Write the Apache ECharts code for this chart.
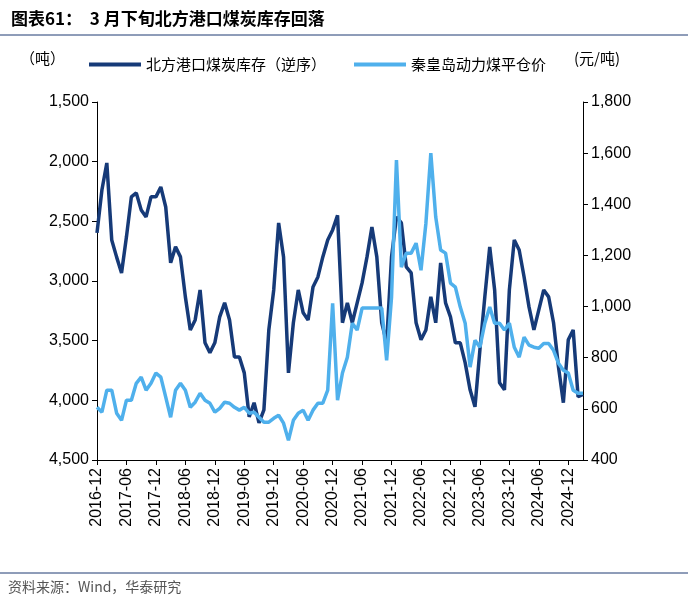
<!DOCTYPE html>
<html><head><meta charset="utf-8">
<script src="https://cdn.jsdelivr.net/npm/echarts@6/dist/echarts.min.js"></script>
<style>html,body{margin:0;padding:0;background:#fff}#c{width:688px;height:610px}</style>
</head><body><div id="c"></div>
<script>
const startYear = 2016, startMonth = 12, nMonths = 100;
const categories = [];
for (let i = 0; i < nMonths; i++) {
  const t = startYear * 12 + (startMonth - 1) + i;
  const y = Math.floor(t / 12), m = t % 12 + 1;
  categories.push(y + '-' + (m < 10 ? '0' + m : m));
}
const inventory = [2597,2237,2011,2656,2800,2933,2630,2295,2262,2404,2463,2295,2295,2212,2380,2848,2714,2798,3133,3410,
3326,3075,3518,3602,3518,3300,3183,3326,3636,3636,3770,4138,4020,4188,4080,3410,3075,2513,2798,3770,
3350,3075,3267,3326,3050,2966,2798,2656,2572,2450,3350,3183,3350,3183,3016,2798,2547,2798,3350,3518,
2798,2463,2513,2882,2932,3350,3493,3410,3133,3350,2848,3183,3300,3518,3518,3686,3912,4054,3577,3133,
2714,3075,3853,3912,3075,2656,2740,2966,3217,3410,3242,3075,3133,3350,3719,4020,3493,3410,3970,3950];
const price = [606,587,673,673,583,555,634,634,700,724,673,700,740,724,646,567,673,700,673,606,
626,661,634,622,587,602,626,622,606,595,606,583,587,567,548,548,563,575,544,477,
555,583,595,555,595,622,622,673,1013,634,740,802,935,908,994,994,994,994,994,790,
1037,1573,1154,1209,1209,1248,1142,1326,1600,1350,1221,1209,1092,1076,998,935,763,868,841,935,
998,935,935,908,935,841,802,880,849,841,837,856,856,829,778,751,740,673,661,661];
const leftTicks = [1500, 4500, 500];
const rightTicks = [400, 1800, 200];

const chart = echarts.init(document.getElementById('c'));
const txt = {color:'#000', fontSize:16, fontFamily:'Liberation Sans, Arial'};
chart.setOption({
  animation:false,
  title:{text:'图表61：  3 月下旬北方港口煤炭库存回落', left:6, top:5,
    textStyle:{fontSize:17, fontWeight:'bold', color:'#000', fontFamily:'Noto Sans CJK SC'}},
  graphic:[
    {type:'line', shape:{x1:0,y1:35,x2:688,y2:35}, style:{stroke:'#1f3a73', lineWidth:1}},
    {type:'line', shape:{x1:0,y1:573,x2:688,y2:573}, style:{stroke:'#1f3a73', lineWidth:1}},
    {type:'text', left:8, top:580, style:{text:'资料来源：Wind，华泰研究', fontSize:14, fill:'#555', fontFamily:'Noto Sans CJK SC'}},
    {type:'text', left:20, top:51, style:{text:'（吨）', fontSize:15, fill:'#000', fontFamily:'Noto Sans CJK SC'}},
    {type:'text', left:574, top:51, style:{text:'(元/吨)', fontSize:15, fill:'#000', fontFamily:'Noto Sans CJK SC'}}
  ],
  legend:{left:84, top:52, itemWidth:52, itemHeight:4, itemGap:28,
    textStyle:{fontSize:15, color:'#000', fontFamily:'Noto Sans CJK SC'},
    data:[{name:'北方港口煤炭库存（逆序）', icon:'rect'},{name:'秦皇岛动力煤平仓价', icon:'rect'}]},
  grid:{left:97, right:105, top:102, bottom:150},
  xAxis:{type:'category', data:categories, boundaryGap:false,
    axisLine:{lineStyle:{color:'#000'}},
    axisTick:{interval:(i)=>i%6===0, lineStyle:{color:'#000'}},
    axisLabel:{interval:(i)=>i%6===0, rotate:90, ...txt}},
  yAxis:[
    {type:'value', inverse:true, min:leftTicks[0], max:leftTicks[1], interval:leftTicks[2],
      axisLine:{show:true, lineStyle:{color:'#000'}}, axisTick:{show:true, lineStyle:{color:'#000'}},
      splitLine:{show:false}, axisLabel:{...txt, formatter:v=>v.toLocaleString('en-US')}},
    {type:'value', min:rightTicks[0], max:rightTicks[1], interval:rightTicks[2],
      axisLine:{show:true, lineStyle:{color:'#000'}}, axisTick:{show:true, lineStyle:{color:'#000'}},
      splitLine:{show:false}, axisLabel:{...txt, formatter:v=>v.toLocaleString('en-US')}}
  ],
  series:[
    {name:'北方港口煤炭库存（逆序）', type:'line', yAxisIndex:0, data:inventory, showSymbol:false,
      lineStyle:{color:'#163a78', width:3.5}, itemStyle:{color:'#163a78'}},
    {name:'秦皇岛动力煤平仓价', type:'line', yAxisIndex:1, data:price, showSymbol:false,
      lineStyle:{color:'#4fb0ec', width:3.5}, itemStyle:{color:'#4fb0ec'}}
  ]
});
</script></body></html>
